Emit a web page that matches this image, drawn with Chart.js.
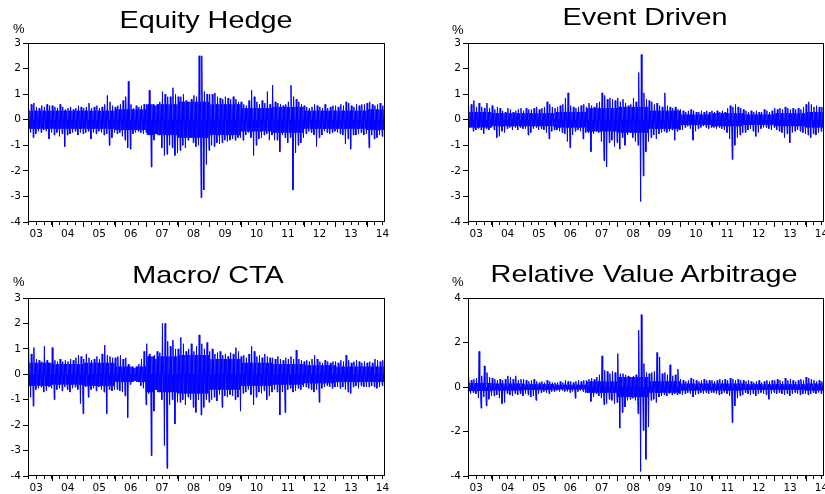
<!DOCTYPE html>
<html><head><meta charset="utf-8">
<script src="https://cdn.jsdelivr.net/npm/chart.js@4"></script>
<style>
html,body{margin:0;padding:0;background:#fff;overflow:hidden;width:825px;height:494px;}
#wrap{position:relative;width:825px;height:494px;overflow:hidden;background:#fff;}
canvas{position:absolute;}
.title{position:absolute;font-family:"Liberation Sans",Arial,sans-serif;font-size:24px;line-height:24px;white-space:nowrap;color:#000;transform:translateX(-50%) scaleX(1.2);}
.unit{position:absolute;font-family:"Liberation Sans",Arial,sans-serif;font-size:13px;line-height:13px;color:#000;}
</style></head><body>
<div id="wrap">
<canvas id="c1" width="412" height="250" style="left:0;top:0"></canvas>
<canvas id="c2" width="420" height="250" style="left:440px;top:0"></canvas>
<canvas id="c3" width="412" height="239" style="left:0;top:255px"></canvas>
<canvas id="c4" width="420" height="239" style="left:440px;top:255px"></canvas>
<div class="title" style="left:206px;top:8px">Equity Hedge</div>
<div class="title" style="left:645px;top:5px">Event Driven</div>
<div class="title" style="left:208px;top:263px">Macro/ CTA</div>
<div class="title" style="left:644px;top:262px">Relative Value Arbitrage</div>
<div class="unit" style="left:13px;top:22px">%</div>
<div class="unit" style="left:452px;top:23px">%</div>
<div class="unit" style="left:13px;top:275px">%</div>
<div class="unit" style="left:452px;top:275px">%</div>
</div>
<script>
// Daily returns (%) summarised per month, Apr 2003 - Jul 2014:
// *Hi / *Lo = monthly highest / lowest daily value, *Core = typical daily swing per year (2003..2014)
const startYear = 2003, startMonth = 4;
const yearLabels = ['03','04','05','06','07','08','09','10','11','12','13','14'];

const ehHi = [
 0.45,0.6,0.65,0.5,0.45,0.55,0.5,0.6,0.55,
 0.55,0.5,0.45,0.6,0.5,0.4,0.45,0.5,0.4,0.45,0.55,0.5,
 0.45,0.5,0.65,0.45,0.5,0.55,0.45,0.5,0.6,0.95,0.7,0.55,
 0.5,0.55,0.6,0.75,0.9,1.5,0.6,0.45,0.55,0.5,0.55,0.6,
 0.6,1.15,0.6,0.55,0.6,0.7,1.1,1.0,0.9,0.9,1.25,1.0,
 0.9,0.9,1.0,0.75,0.7,0.8,0.95,0.9,2.5,2.5,1.1,1.0,
 1.0,1.0,1.05,0.9,0.85,0.8,0.9,0.85,0.8,0.9,0.8,0.7,
 0.7,0.6,0.55,0.75,1.15,0.9,0.7,0.6,0.75,0.65,1.1,0.6,
 1.35,0.7,0.65,0.6,0.55,0.6,0.7,1.35,0.9,0.8,0.7,0.6,
 0.55,0.5,0.45,0.5,0.6,0.55,0.5,0.45,0.6,0.45,0.5,0.55,
 0.55,0.5,0.6,0.55,0.7,0.65,0.55,0.5,0.6,0.55,0.6,0.6,
 0.65,0.7,0.6,0.55,0.6,0.65,0.55];
const ehLo = [
 -0.5,-0.7,-0.55,-0.45,-0.5,-0.4,-0.45,-0.75,-0.5,
 -0.6,-0.5,-0.65,-0.55,-1.05,-0.6,-0.55,-0.5,-0.45,-0.6,-0.5,-0.55,
 -0.5,-0.45,-0.75,-0.5,-0.55,-0.45,-0.5,-0.6,-0.55,-1.0,-0.7,-0.5,
 -0.55,-0.5,-0.65,-0.8,-1.1,-1.15,-0.55,-0.5,-0.45,-0.5,-0.55,-0.5,
 -0.6,-1.85,-0.8,-0.55,-0.6,-1.1,-1.4,-1.35,-1.0,-1.1,-1.4,-1.3,
 -1.2,-1.0,-1.1,-0.8,-0.7,-0.9,-1.05,-1.0,-3.05,-2.75,-1.75,-1.2,
 -1.0,-1.05,-0.9,-0.95,-0.9,-0.8,-0.85,-0.8,-0.75,-0.8,-0.7,-0.7,
 -0.8,-0.6,-0.5,-0.7,-1.4,-1.0,-0.75,-0.7,-0.6,-0.55,-0.8,-0.6,
 -0.8,-0.8,-1.25,-0.6,-0.7,-0.9,-0.7,-2.75,-1.3,-1.0,-0.9,-0.7,
 -0.55,-0.45,-0.5,-0.6,-1.05,-0.7,-0.6,-0.45,-0.5,-0.55,-0.5,-0.45,
 -0.5,-0.55,-0.6,-0.95,-0.75,-1.15,-0.6,-0.6,-0.55,-0.5,-0.6,-0.55,
 -1.1,-0.6,-0.75,-0.7,-0.6,-0.65,-0.85];
const ehCore = [0.35,0.35,0.35,0.4,0.6,0.7,0.6,0.45,0.5,0.35,0.35,0.4];

const edHi = [
 0.55,0.6,0.75,0.5,0.65,0.5,0.45,0.65,0.45,
 0.55,0.4,0.5,0.45,0.35,0.3,0.45,0.4,0.3,0.35,0.4,0.45,
 0.35,0.45,0.4,0.4,0.45,0.5,0.4,0.45,0.5,0.7,0.6,0.5,
 0.45,0.5,0.55,0.6,0.85,1.05,0.55,0.5,0.45,0.5,0.55,0.6,
 0.5,0.65,0.55,0.5,0.65,0.7,1.05,0.95,0.8,0.85,0.8,0.75,
 0.85,0.7,0.8,0.65,0.55,0.6,0.85,0.7,1.85,2.55,1.05,0.8,
 0.75,0.7,0.6,0.65,0.55,0.5,1.05,0.55,0.5,0.45,0.5,0.4,
 0.4,0.35,0.3,0.35,0.4,0.35,0.3,0.3,0.35,0.3,0.35,0.3,
 0.35,0.3,0.35,0.3,0.35,0.3,0.45,0.55,0.5,0.6,0.5,0.45,
 0.4,0.35,0.3,0.35,0.3,0.35,0.3,0.3,0.4,0.35,0.3,0.35,
 0.45,0.4,0.45,0.4,0.5,0.45,0.4,0.45,0.4,0.45,0.4,0.5,
 0.6,0.7,0.6,0.5,0.55,0.5,0.5];
const edLo = [
 -0.3,-0.45,-0.4,-0.35,-0.4,-0.55,-0.35,-0.4,-0.3,
 -0.4,-0.7,-0.65,-0.45,-0.5,-0.35,-0.3,-0.4,-0.3,-0.4,-0.3,-0.35,
 -0.35,-0.6,-0.5,-0.35,-0.3,-0.4,-0.35,-0.4,-0.5,-0.75,-0.45,-0.4,
 -0.4,-0.45,-0.5,-0.55,-0.85,-1.1,-0.6,-0.45,-0.4,-0.45,-0.75,-0.5,
 -0.5,-1.25,-0.55,-0.45,-0.5,-0.85,-1.6,-1.85,-0.9,-0.8,-1.05,-0.9,
 -1.15,-0.7,-1.0,-0.6,-0.5,-0.7,-0.85,-1.0,-3.2,-2.2,-1.25,-0.85,
 -0.7,-0.6,-0.75,-0.55,-0.5,-0.45,-0.5,-0.45,-0.4,-0.8,-0.45,-0.4,
 -0.4,-0.3,-0.25,-0.35,-0.8,-0.45,-0.35,-0.3,-0.25,-0.3,-0.35,-0.3,
 -0.3,-0.35,-0.3,-0.35,-0.4,-0.5,-0.75,-1.55,-1.0,-0.7,-0.6,-0.5,
 -0.5,-0.4,-0.35,-0.45,-0.65,-0.5,-0.35,-0.3,-0.3,-0.35,-0.4,-0.3,
 -0.4,-0.45,-0.5,-0.7,-0.55,-0.9,-0.5,-0.45,-0.4,-0.45,-0.5,-0.55,
 -0.6,-0.7,-0.55,-0.6,-0.5,-0.45,-0.4];
const edCore = [0.3,0.25,0.25,0.3,0.45,0.5,0.35,0.2,0.25,0.2,0.25,0.3];

const mcHi = [
 1.05,0.8,1.05,0.6,0.55,0.5,1.1,0.55,0.45,
 1.05,0.55,0.5,0.6,0.5,0.55,0.5,0.6,0.55,0.65,0.75,0.7,
 0.6,0.8,0.65,0.55,0.6,0.7,0.6,0.8,1.15,0.75,0.7,0.65,
 0.65,0.7,0.75,0.6,0.65,0.4,0.3,0.25,0.3,0.4,0.6,0.9,
 1.2,0.8,0.7,0.75,0.9,0.85,2.0,2.0,1.3,1.1,1.35,1.0,
 1.0,1.45,1.2,0.9,1.0,1.2,0.9,1.1,1.55,1.2,1.0,1.25,
 0.9,1.0,0.8,0.85,0.9,0.75,0.8,0.7,0.85,0.8,1.05,0.9,
 0.7,0.75,0.65,0.8,1.1,0.9,0.7,0.75,0.65,0.8,0.7,0.65,
 0.65,0.6,0.7,0.6,0.55,0.65,0.6,0.7,0.6,0.95,0.6,0.55,
 0.5,0.55,0.5,0.6,0.75,0.6,0.5,0.45,0.55,0.5,0.45,0.5,
 0.5,0.45,0.55,0.5,0.75,0.55,0.45,0.5,0.55,0.5,0.45,0.5,
 0.45,0.5,0.45,0.6,0.55,0.5,0.55];
const mcLo = [
 -0.9,-1.25,-0.6,-0.55,-0.5,-0.7,-0.65,-0.5,-0.55,
 -1.0,-0.6,-0.55,-0.65,-0.5,-0.6,-0.7,-0.55,-0.5,-0.6,-1.15,-1.55,
 -0.5,-0.9,-0.6,-0.55,-0.65,-0.5,-0.6,-0.7,-1.55,-0.6,-0.65,-0.6,
 -0.6,-0.65,-0.7,-0.85,-1.7,-0.4,-0.3,-0.25,-0.3,-0.45,-0.55,-1.2,
 -0.75,-3.2,-1.45,-0.6,-0.7,-1.0,-2.8,-3.7,-1.2,-1.0,-1.95,-1.1,
 -1.1,-1.0,-1.2,-0.9,-1.0,-1.3,-1.5,-1.0,-1.6,-1.3,-1.0,-1.1,
 -1.0,-0.9,-1.05,-0.8,-1.3,-0.85,-0.9,-0.8,-0.85,-1.0,-0.9,-1.45,
 -0.75,-0.7,-0.6,-0.8,-1.2,-0.9,-0.7,-0.75,-0.65,-1.0,-0.85,-0.7,
 -0.6,-0.7,-1.6,-0.7,-1.5,-0.6,-0.55,-0.7,-0.65,-0.55,-0.6,-0.5,
 -0.5,-0.55,-0.6,-0.7,-0.6,-1.1,-0.55,-0.5,-0.45,-0.5,-0.55,-0.5,
 -0.5,-0.55,-0.5,-0.6,-0.7,-0.75,-0.5,-0.45,-0.55,-0.45,-0.5,-0.5,
 -0.5,-0.45,-0.5,-0.55,-0.5,-0.45,-0.5];
const mcCore = [0.45,0.4,0.45,0.3,0.7,0.75,0.6,0.45,0.4,0.35,0.3,0.3];

const rvHi = [
 0.45,0.3,0.35,0.4,1.6,0.5,0.95,0.65,0.45,
 0.4,0.35,0.3,0.35,0.3,0.35,0.5,0.45,0.35,0.5,0.3,0.35,
 0.35,0.3,0.25,0.3,0.35,0.25,0.2,0.25,0.2,0.3,0.25,0.2,
 0.2,0.2,0.25,0.2,0.3,0.25,0.25,0.2,0.25,0.3,0.25,0.3,
 0.3,0.35,0.4,0.35,0.45,0.55,1.4,0.75,0.7,0.6,0.7,0.65,
 1.5,0.6,0.6,0.55,0.5,0.45,0.5,0.55,2.55,3.25,1.05,0.65,
 0.6,0.65,0.7,1.55,1.35,0.6,0.65,0.55,1.0,0.5,0.55,0.8,
 0.35,0.3,0.25,0.3,0.4,0.35,0.3,0.25,0.3,0.35,0.3,0.3,
 0.3,0.25,0.3,0.35,0.3,0.35,0.3,0.4,0.35,0.3,0.35,0.3,
 0.3,0.25,0.3,0.25,0.2,0.25,0.3,0.2,0.25,0.3,0.25,0.3,
 0.3,0.35,0.3,0.25,0.4,0.3,0.35,0.3,0.25,0.3,0.35,0.3,
 0.45,0.4,0.35,0.3,0.25,0.3,0.25];
const rvLo = [
 -0.3,-0.25,-0.3,-0.5,-0.95,-0.45,-0.85,-0.55,-0.4,
 -0.4,-0.35,-0.5,-0.75,-0.7,-0.3,-0.35,-0.4,-0.3,-0.35,-0.3,-0.4,
 -0.3,-0.35,-0.45,-0.4,-0.6,-0.3,-0.25,-0.2,-0.25,-0.3,-0.2,-0.2,
 -0.15,-0.2,-0.15,-0.2,-0.2,-0.25,-0.2,-0.5,-0.2,-0.15,-0.2,-0.25,
 -0.25,-0.65,-0.45,-0.3,-0.4,-0.5,-0.8,-0.75,-0.55,-0.6,-0.75,-0.7,
 -1.85,-1.15,-0.9,-0.6,-0.55,-0.5,-0.6,-1.2,-3.8,-1.95,-3.25,-1.8,
 -0.6,-0.55,-0.7,-0.45,-0.4,-0.35,-0.4,-0.3,-0.35,-0.3,-0.35,-0.3,
 -0.35,-0.3,-0.25,-0.3,-0.45,-0.35,-0.3,-0.25,-0.3,-0.25,-0.3,-0.25,
 -0.25,-0.3,-0.35,-0.3,-0.25,-0.3,-0.4,-1.6,-0.85,-0.5,-0.4,-0.35,
 -0.25,-0.3,-0.35,-0.3,-0.4,-0.3,-0.25,-0.3,-0.35,-0.55,-0.3,-0.25,
 -0.3,-0.25,-0.3,-0.35,-0.3,-0.4,-0.3,-0.25,-0.3,-0.35,-0.3,-0.3,
 -0.35,-0.3,-0.25,-0.3,-0.25,-0.3,-0.35];
const rvCore = [0.18,0.15,0.12,0.1,0.25,0.45,0.25,0.15,0.15,0.12,0.12,0.15];

const X_MIN = 2003.24, X_MAX = 2014.58;

function monthX(i, frac) { return startYear + (startMonth - 1 + i + frac) / 12; }
function buildSeries(hi, lo, core) {
  const pts = [];
  for (let i = 0; i < hi.length; i++) {
    const yc = core[Math.floor((startMonth - 1 + i) / 12)];
    const c = Math.min(yc, hi[i], -lo[i]);
    pts.push({x: monthX(i, 0.125), y: hi[i]});
    pts.push({x: monthX(i, 0.375), y: -c});
    pts.push({x: monthX(i, 0.625), y: c});
    pts.push({x: monthX(i, 0.875), y: lo[i]});
  }
  return pts;
}
const quarterTicks = [];
for (let y = 2003; y <= 2014; y++) for (let q = 0; q < 4; q++) {
  const v = y + q / 4;
  if (v >= X_MIN && v <= X_MAX) quarterTicks.push(v);
}
function labelFor(v) {
  const y = Math.floor(v + 1e-9);
  if (Math.abs(v - y - 0.5) < 1e-6) return yearLabels[y - 2003];
  return '';
}
const TICK_FONT = {family: "'DejaVu Sans', sans-serif", size: 10.5};

const framePlugin = {
  id: 'frame',
  afterDraw(chart) {
    const ctx = chart.ctx, a = chart.chartArea, xs = chart.scales.x;
    ctx.save();
    ctx.strokeStyle = '#000'; ctx.lineWidth = 1;
    ctx.strokeRect(Math.round(a.left) + 0.5, Math.round(a.top) + 0.5,
                   Math.round(a.right - a.left) - 1, Math.round(a.bottom - a.top) - 1);
    ctx.beginPath();
    for (let y = 2004; y <= 2014; y++) {
      const px = Math.round(xs.getPixelForValue(y)) + 0.5;
      ctx.moveTo(px, a.bottom); ctx.lineTo(px, a.bottom + 5);
    }
    ctx.stroke();
    ctx.restore();
  }
};

function makeChart(id, hi, lo, core, yMin, yMax, yStep, padRight, xAxisH) {
  return new Chart(document.getElementById(id), {
    type: 'line',
    data: { datasets: [{ data: buildSeries(hi, lo, core), borderColor: '#0000FF', borderWidth: 1,
                         backgroundColor: '#0000FF', fill: 'origin',
                         pointRadius: 0, tension: 0 }] },
    options: {
      responsive: false, animation: false, events: [],
      layout: { padding: { top: 43, right: padRight, left: 0, bottom: 0 } },
      plugins: { legend: {display: false}, tooltip: {enabled: false}, title: {display: false} },
      scales: {
        x: { type: 'linear', min: X_MIN, max: X_MAX,
             afterBuildTicks: s => { s.ticks = quarterTicks.map(v => ({value: v})); },
             afterFit: s => { s.height = xAxisH; },
             ticks: { autoSkip: false, maxRotation: 0, minRotation: 0, padding: 3,
                      color: '#000', font: TICK_FONT, callback: v => labelFor(v) },
             grid: { drawOnChartArea: false, drawTicks: true, tickLength: 3,
                     tickColor: '#000', color: '#000', lineWidth: 1 },
             border: { display: false } },
        y: { min: yMin, max: yMax,
             afterFit: s => { s.width = 28; },
             ticks: { stepSize: yStep, padding: 2, color: '#000', font: TICK_FONT,
                      callback: v => String(v) },
             grid: { drawOnChartArea: false, drawTicks: true, tickLength: 5,
                     tickColor: '#000', color: '#000', lineWidth: 1 },
             border: { display: false } }
      }
    },
    plugins: [framePlugin]
  });
}

makeChart('c1', ehHi, ehLo, ehCore, -4, 3, 1, 27, 28);
makeChart('c2', edHi, edLo, edCore, -4, 3, 1, 36, 28);
makeChart('c3', mcHi, mcLo, mcCore, -4, 3, 1, 27, 18);
makeChart('c4', rvHi, rvLo, rvCore, -4, 4, 2, 36, 18);
</script>
</body></html>
